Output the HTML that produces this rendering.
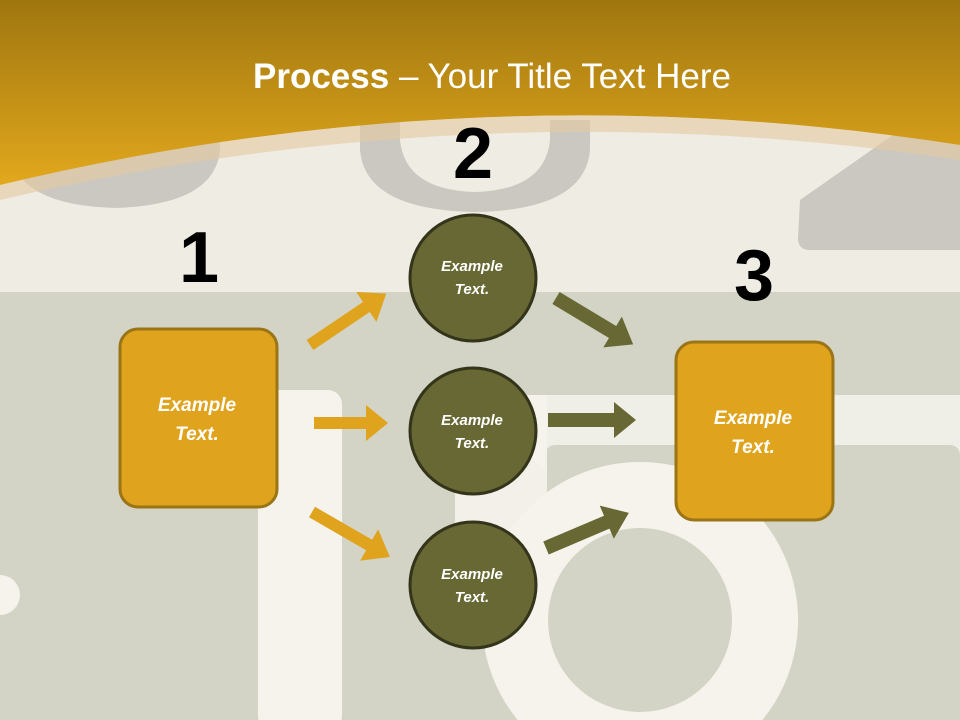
<!DOCTYPE html>
<html><head><meta charset="utf-8"><style>
html,body{margin:0;padding:0;width:960px;height:720px;overflow:hidden;background:#d3d4c5}
svg{display:block}
</style></head><body>
<svg width="960" height="720" viewBox="0 0 960 720" xmlns="http://www.w3.org/2000/svg">
<defs>
<linearGradient id="g" x1="0" y1="0" x2="0" y2="1">
<stop offset="0" stop-color="#9f760f"/><stop offset="1" stop-color="#e2a81d"/>
</linearGradient>
</defs>
<rect x="0" y="0" width="960" height="720" fill="#d3d4c5"/>
<rect x="0" y="100" width="960" height="192" fill="#efece4"/>
<path d="M10,130 L220,130 L220,150 Q215,205 115,208 Q15,205 10,150 Z" fill="#cbc8c1"/>
<path d="M360,120 L590,120 L590,150 Q585,210 475,212 Q365,210 360,150 Z" fill="#cbc8c1"/>
<path d="M400,120 L550,120 L550,140 Q545,190 475,192 Q405,190 400,140 Z" fill="#efece4"/>
<path d="M800,200 L900,130 L960,130 L960,250 L810,250 Q798,250 798,238 Z" fill="#cbc8c1"/>
<rect x="258" y="390" width="84" height="340" rx="14" fill="#f5f3ec"/>
<path d="M455,395 L960,395 L960,470 L545,470 Z" fill="#f5f3ec" opacity="0.85"/>
<rect x="545" y="445" width="415" height="58" rx="10" fill="#d3d4c5"/>
<rect x="455" y="395" width="92" height="230" fill="#f5f3ec" opacity="0.9"/>
<circle cx="640" cy="620" r="125" fill="none" stroke="#f5f3ec" stroke-width="66"/>
<circle cx="0" cy="595" r="20" fill="#f5f3ec"/>
<path d="M0,0 L960,0 L960,145 Q480,70 0,185 Z" fill="url(#g)"/>
<path d="M0,185 Q480,70 960,145 L960,160 Q480,88 0,200 Z" fill="#e5c9a0" opacity="0.6"/>
<text x="492" y="88" text-anchor="middle" fill="#fff" font-family="Liberation Sans, sans-serif" font-size="35"><tspan font-weight="bold">Process</tspan> – Your Title Text Here</text>
<g font-family="Liberation Sans, sans-serif" font-weight="bold" font-size="72" text-anchor="middle" fill="#000">
<text x="199" y="282">1</text><text x="473" y="178">2</text><text x="754" y="300">3</text>
</g>
<g fill="#dfa31d">
<polygon points="0,-6 68,-6 68,-18 92,0 68,18 68,6 0,6" transform="translate(310,345) rotate(-34)"/>
<polygon points="0,-6 52,-6 52,-18 74,0 52,18 52,6 0,6" transform="translate(314,423)"/>
<polygon points="0,-6 66,-6 66,-18 90,0 66,18 66,6 0,6" transform="translate(312,512) rotate(30)"/>
</g>
<g fill="#676833">
<polygon points="0,-7 66,-7 66,-18 90,0 66,18 66,7 0,7" transform="translate(556,298) rotate(31)"/>
<polygon points="0,-7 66,-7 66,-18 88,0 66,18 66,7 0,7" transform="translate(548,420)"/>
<polygon points="0,-7 66,-7 66,-18 90,0 66,18 66,7 0,7" transform="translate(546,548) rotate(-23)"/>
</g>
<rect x="120" y="329" width="157" height="178" rx="18" fill="#dfa31d" stroke="#9a7415" stroke-width="3"/>
<rect x="676" y="342" width="157" height="178" rx="18" fill="#dfa31d" stroke="#9a7415" stroke-width="3"/>
<g fill="#676833" stroke="#33341a" stroke-width="3">
<circle cx="473" cy="278" r="63"/><circle cx="473" cy="431" r="63"/><circle cx="473" cy="585" r="63"/>
</g>
<g font-family="Liberation Sans, sans-serif" font-weight="bold" font-style="italic" fill="#fff" text-anchor="middle">
<g font-size="15">
<text x="472" y="271">Example</text><text x="472" y="294">Text.</text>
<text x="472" y="425">Example</text><text x="472" y="448">Text.</text>
<text x="472" y="579">Example</text><text x="472" y="602">Text.</text>
</g>
<g font-size="19">
<text x="197" y="411">Example</text><text x="197" y="440">Text.</text>
<text x="753" y="424">Example</text><text x="753" y="453">Text.</text>
</g>
</g>
</svg>
</body></html>
